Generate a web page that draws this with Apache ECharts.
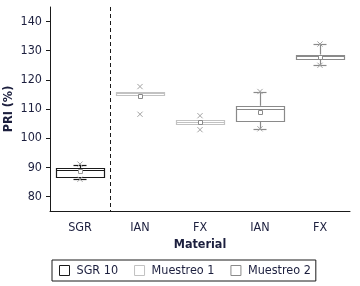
<!DOCTYPE html>
<html><head><meta charset="utf-8">
<script src="https://cdn.jsdelivr.net/npm/echarts@6/dist/echarts.min.js"></script>
<style>html,body{margin:0;padding:0;background:#fff}#c{width:360px;height:286px}</style>
</head><body><div id="c"></div>
<script>
const categories = ['SGR', 'IAN', 'FX', 'IAN', 'FX'];
const seriesNames = ['SGR 10', 'Muestreo 1', 'Muestreo 2'];
const seriesOfCategory = [0, 1, 1, 2, 2];
const q1 = [86.5, 114.9, 104.7, 106.0, 127.3];
const median = [88.9, 115.4, 105.5, 110.1, 128.2];
const q3 = [89.6, 116.0, 106.3, 111.1, 128.7];
const whiskerLow = [85.9, null, null, 103.2, 125.0];
const whiskerHigh = [90.7, null, null, 116.0, 132.3];
const mean = [88.7, 114.5, 105.5, 109.1, 128.0];
const minVal = [85.9, 108.2, 102.9, 103.2, 125.0];
const maxVal = [91.1, 117.7, 107.7, 116.0, 132.3];
const yTicks = [80, 90, 100, 110, 120, 130, 140];
const yMin = 75, yMax = 145;
const dividerAfter = [0];

const FONT = '"DejaVu Sans Condensed", "Liberation Sans Narrow", "Liberation Sans", sans-serif';
const FS = 12.5;
const TXT = '#1c1f3e';
const AX = '#1a1a1a';
const seriesColors = ['#1a1a1a', '#c2c2c2', '#8a8a8a'];
const crossColor = '#a3a3a3';
const meanColors = ['#9a9a9a', '#8a8a8a', '#8a8a8a'];

function num(v) { return (v == null || isNaN(v)) ? null : v; }

function makeData(s) {
  const out = [];
  for (let i = 0; i < categories.length; i++) {
    if (seriesOfCategory[i] !== s) continue;
    out.push([i,
      whiskerLow[i] == null ? NaN : whiskerLow[i], q1[i], median[i], q3[i],
      whiskerHigh[i] == null ? NaN : whiskerHigh[i], mean[i], minVal[i], maxVal[i]]);
  }
  return out;
}

function px(v) { return Math.round(v) + 0.5; }

function renderBox(params, api) {
  const s = params.seriesIndex;
  const color = seriesColors[s];
  const idx = api.value(0);
  const band = api.size([1, 0])[0];
  const half = band * 0.4;
  const cx = api.coord([idx, q1[0]])[0];
  const y = v => api.coord([idx, v])[1];
  const yq1 = y(api.value(2)), ymed = y(api.value(3)), yq3 = y(api.value(4));
  const wl = num(api.value(1)), wh = num(api.value(5));
  const children = [];
  const L = Math.round(cx - half) + 0.5, R = Math.round(cx + half) + 0.5;
  const lineStyle = { stroke: color, lineWidth: 1.2, fill: null };
  if (wh != null) {
    children.push({ type: 'line', shape: { x1: px(cx), y1: yq3, x2: px(cx), y2: y(wh) }, style: lineStyle });
    children.push({ type: 'line', shape: { x1: cx - 6.5, y1: px(y(wh)), x2: cx + 6.5, y2: px(y(wh)) }, style: lineStyle });
  }
  if (wl != null) {
    children.push({ type: 'line', shape: { x1: px(cx), y1: yq1, x2: px(cx), y2: y(wl) }, style: lineStyle });
    children.push({ type: 'line', shape: { x1: cx - 6.5, y1: px(y(wl)), x2: cx + 6.5, y2: px(y(wl)) }, style: lineStyle });
  }
  const top = px(yq3), bot = px(yq1);
  children.push({ type: 'rect', shape: { x: L, y: top, width: R - L, height: Math.max(bot - top, 2) },
    style: { stroke: color, lineWidth: 1.2, fill: '#fff' } });
  children.push({ type: 'line', shape: { x1: L, y1: px(ymed), x2: R, y2: px(ymed) }, style: lineStyle });
  [api.value(7), api.value(8)].forEach(v => {
    const yy = y(v);
    const r = 2.6;
    children.push({ type: 'line', shape: { x1: cx - r, y1: yy - r, x2: cx + r, y2: yy + r }, style: { stroke: crossColor, lineWidth: 1 } });
    children.push({ type: 'line', shape: { x1: cx - r, y1: yy + r, x2: cx + r, y2: yy - r }, style: { stroke: crossColor, lineWidth: 1 } });
  });
  const ym = y(api.value(6));
  children.push({ type: 'rect', shape: { x: Math.round(cx - 2) + 0.5, y: Math.round(ym - 2) + 0.5, width: 4, height: 4 },
    style: { stroke: meanColors[s], lineWidth: 1, fill: '#fff' } });
  return { type: 'group', children };
}

function renderDivider(params, api) {
  const idx = api.value(0);
  const band = api.size([1, 0])[0];
  const x = Math.round(api.coord([idx, yMin])[0] + band / 2) + 0.5;
  const cs = params.coordSys;
  return { type: 'line', shape: { x1: x, y1: cs.y, x2: x, y2: cs.y + cs.height },
    style: { stroke: AX, lineWidth: 1, lineDash: [4, 3] } };
}

const series = seriesNames.map((name, s) => ({
  name, type: 'custom', renderItem: renderBox, data: makeData(s),
  itemStyle: { color: seriesColors[s] }, encode: { x: 0, y: [1, 2, 3, 4, 5, 6, 7, 8] }, z: 3
}));
series.push({
  name: 'divider', type: 'custom', renderItem: renderDivider, data: dividerAfter.map(d => [d]),
  encode: { x: 0 }, z: 2, silent: true
});

const chart = echarts.init(document.getElementById('c'), null, { renderer: 'canvas' });
chart.setOption({
  animation: false,
  backgroundColor: '#fff',
  grid: { left: 50, right: 10, top: 7, bottom: 75, containLabel: false, outerBoundsMode: 'none' },
  xAxis: {
    type: 'category', data: categories,
    name: 'Material', nameLocation: 'middle', nameGap: 27, nameMoveOverlap: false,
    nameTextStyle: { fontFamily: FONT, fontSize: FS, fontWeight: 'bold', color: TXT },
    axisLine: { lineStyle: { color: AX, width: 1 } },
    axisTick: { alignWithLabel: true, length: 4, lineStyle: { color: AX } },
    axisLabel: { fontFamily: FONT, fontSize: FS, color: TXT, margin: 10 },
    splitLine: { show: false }
  },
  yAxis: {
    type: 'value', min: yMin, max: yMax,
    name: 'PRI (%)', nameLocation: 'middle', nameGap: 35, nameMoveOverlap: false,
    nameTextStyle: { fontFamily: FONT, fontSize: FS, fontWeight: 'bold', color: TXT },
    axisLine: { show: true, lineStyle: { color: AX, width: 1 } },
    axisTick: { show: true, length: 4, lineStyle: { color: AX }, customValues: yTicks },
    axisLabel: { fontFamily: FONT, fontSize: FS, color: TXT, margin: 8, customValues: yTicks },
    splitLine: { show: false }
  },
  legend: {
    left: 52, top: 260, orient: 'horizontal',
    padding: [4, 5, 4, 7], borderColor: AX, borderWidth: 1, borderRadius: 0,
    itemWidth: 10, itemHeight: 10, itemGap: 16, icon: 'rect',
    textStyle: { fontFamily: FONT, fontSize: FS, color: TXT, padding: [0, 0, 0, 2] },
    data: seriesNames.map((n, s) => ({ name: n, icon: 'rect',
      itemStyle: { color: '#fff', borderColor: seriesColors[s], borderWidth: 1 } }))
  },
  series
});
</script>
</body></html>
